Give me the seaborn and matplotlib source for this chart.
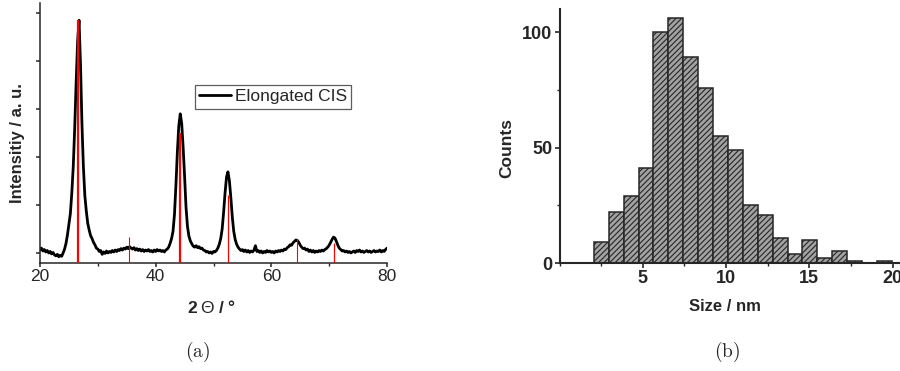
import numpy as np
import pandas as pd
import matplotlib
matplotlib.use("Agg")
import matplotlib.pyplot as plt
from matplotlib.ticker import MultipleLocator, NullFormatter
import seaborn as sns

# ---------------- data ----------------
# XRD scan, 20-80 deg in 0.25 deg steps (intensity in arbitrary units)
scan_start, scan_stop = 20.0, 80.0
intensity = [
    0.06, 0.10, 0.04, 0.07, 0.02, 0.05, 0.00, 0.03,
    -0.02, 0.01, -0.04, -0.06, -0.03, -0.08, -0.05, -0.07,
    0.00, 0.08, 0.20, 0.38, 0.60, 0.82, 1.25, 1.80,
    2.60, 3.55, 4.40, 4.85, 3.95, 2.70, 1.80, 1.20,
    0.88, 0.62, 0.48, 0.36, 0.30, 0.22, 0.17, 0.10,
    0.08, 0.03, 0.05, -0.03, 0.02, -0.01, 0.04, 0.00,
    0.03, 0.01, 0.05, 0.02, 0.06, 0.03, 0.07, 0.05,
    0.09, 0.06, 0.10, 0.08, 0.12, 0.09, 0.13, 0.10,
    0.08, 0.11, 0.06, 0.09, 0.05, 0.08, 0.04, 0.07,
    0.03, 0.06, 0.04, 0.07, 0.03, 0.05, 0.02, 0.06,
    0.03, 0.07, 0.04, 0.06, 0.03, 0.05, 0.02, 0.06,
    0.08, 0.12, 0.20, 0.30, 0.45, 0.80, 1.40, 2.10,
    2.65, 2.90, 2.70, 2.20, 1.60, 0.95, 0.55, 0.35,
    0.25, 0.19, 0.14, 0.12, 0.15, 0.11, 0.13, 0.09,
    0.10, 0.06, 0.05, 0.02, 0.03, 0.00, 0.02, -0.01,
    0.03, 0.02, 0.05, 0.10, 0.18, 0.30, 0.50, 0.85,
    1.25, 1.58, 1.69, 1.50, 1.15, 0.75, 0.45, 0.28,
    0.18, 0.12, 0.08, 0.05, 0.07, 0.03, 0.06, 0.02,
    0.05, 0.01, 0.04, 0.02, 0.06, 0.15, 0.03, 0.05,
    0.01, 0.04, 0.00, 0.03, 0.01, 0.05, 0.02, 0.04,
    0.01, 0.03, 0.00, 0.04, 0.02, 0.05, 0.03, 0.06,
    0.04, 0.08, 0.07, 0.11, 0.13, 0.17, 0.16, 0.21,
    0.24, 0.27, 0.26, 0.22, 0.16, 0.12, 0.09, 0.10,
    0.06, 0.08, 0.03, 0.06, 0.02, 0.05, 0.01, 0.04,
    0.02, 0.05, 0.03, 0.06, 0.04, 0.07, 0.09, 0.12,
    0.16, 0.22, 0.28, 0.33, 0.31, 0.24, 0.16, 0.10,
    0.07, 0.04, 0.05, 0.02, 0.04, 0.01, 0.03, 0.00,
    0.02, 0.04, 0.01, 0.05, 0.03, 0.06, 0.02, 0.04,
    0.01, 0.03, 0.05, 0.02, 0.04, 0.01, 0.03, 0.05,
    0.02, 0.04, 0.03, 0.06, 0.02, 0.05, 0.03, 0.07,
    0.10,
]
two_theta = np.linspace(scan_start, scan_stop, len(intensity))

# reference reflections (position in deg, relative height)
ref_positions = [26.55, 35.45, 44.2, 52.45, 64.5, 70.85]
ref_heights = [4.85, 0.33, 2.5, 1.2, 0.29, 0.21]

# particle size histogram
size_edges = [2.06, 2.955, 3.85, 4.745, 5.64, 6.535, 7.43, 8.325, 9.22,
              10.115, 11.01, 11.905, 12.80, 13.695, 14.59, 15.485, 16.38,
              17.275, 18.17, 19.065, 19.96]
size_counts = [9, 22, 29, 41, 100, 106, 89, 76, 55, 49,
               25, 21, 11, 4, 10, 2, 5, 1, 0, 1]

# ---------------- style ----------------
sns.set_style("ticks")
plt.rcParams["font.family"] = ["Liberation Sans", "DejaVu Sans"]
plt.rcParams["mathtext.fontset"] = "custom"
plt.rcParams["mathtext.rm"] = "Liberation Sans"
plt.rcParams["mathtext.bf"] = "Liberation Sans:bold"
plt.rcParams["mathtext.it"] = "Liberation Sans:italic"
plt.rcParams["hatch.linewidth"] = 0.8
plt.rcParams["axes.linewidth"] = 1.1

W, H = 900, 371
fig = plt.figure(figsize=(W / 100, H / 100), dpi=100)

def frac_axes(left, top, right, bottom):
    return fig.add_axes([left / W, 1 - bottom / H, (right - left) / W, (bottom - top) / H])

# ---------------- (a) XRD ----------------
ax1 = frac_axes(40, 3, 387, 263)
ylim_a = (-0.21, 5.21)
xrd = pd.DataFrame({"two_theta": two_theta, "intensity": intensity})
sns.lineplot(data=xrd, x="two_theta", y="intensity", ax=ax1, color="black",
             linewidth=2.0, estimator=None, sort=False, label="Elongated CIS")
ax1.vlines(ref_positions, ylim_a[0], ref_heights, colors="#ff0000",
           linewidths=[1.6, 0.8, 1.6, 0.9, 0.8, 0.9], zorder=4)
ax1.set_xlim(20, 80)
ax1.set_ylim(*ylim_a)
ax1.set_xticks([20, 40, 60, 80])
ax1.xaxis.set_minor_locator(MultipleLocator(10))
ax1.set_yticks([0, 1, 2, 3, 4, 5])
ax1.yaxis.set_major_formatter(NullFormatter())
ax1.tick_params(axis="both", which="major", direction="out", length=3.2,
                width=1.1, labelsize=12.5, pad=1)
ax1.tick_params(axis="x", which="minor", direction="out", length=2.2, width=1.0)
sns.despine(ax=ax1)
ax1.set_xlabel(r"$\mathbf{2}\;\mathrm{\Theta}\;\mathbf{/\;°}$", fontsize=12.5)
ax1.xaxis.set_label_coords((211 - 40) / 347, (263 - 299) / 260)
ax1.xaxis.label.set_va("top")
ax1.set_ylabel("Intensitiy / a. u.", fontsize=12, fontweight="bold")
ax1.yaxis.set_label_coords((25 - 40) / 347, (263 - 143) / 260)
leg = ax1.legend(loc="upper left", bbox_to_anchor=((195 - 40) / 347, 1 - (85 - 3) / 260),
                 borderaxespad=0, fontsize=12.5, frameon=True, fancybox=False,
                 handlelength=1.8, handletextpad=0.25, borderpad=0.25)
leg.get_frame().set_edgecolor("#333333")
leg.get_frame().set_linewidth(0.9)

# ---------------- (b) size histogram ----------------
ax2 = frac_axes(559.5, 9, 900, 263)
mids = [(a + b) / 2 for a, b in zip(size_edges[:-1], size_edges[1:])]
sizes = pd.DataFrame({"size": mids, "count": size_counts})
sns.histplot(data=sizes, x="size", weights="count", bins=size_edges, ax=ax2,
             color="#a2a2a2", edgecolor="#262626", linewidth=1.1, alpha=1,
             hatch="//////")
ax2.set_xlim(0, 20.45)
ax2.set_ylim(0, 110)
ax2.set_xticks([5, 10, 15, 20])
ax2.xaxis.set_minor_locator(MultipleLocator(2.5))
ax2.set_yticks([0, 50, 100])
ax2.yaxis.set_minor_locator(MultipleLocator(25))
ax2.tick_params(axis="both", which="major", direction="out", length=3.8,
                width=1.2, labelsize=13, pad=1.5)
ax2.tick_params(axis="both", which="minor", direction="out", length=2.4, width=1.0)
for lab in ax2.get_xticklabels() + ax2.get_yticklabels():
    lab.set_fontweight("bold")
for side in ("left", "bottom"):
    ax2.spines[side].set_linewidth(1.5)
sns.despine(ax=ax2)
ax2.set_xlabel("Size / nm", fontsize=12, fontweight="bold")
ax2.xaxis.set_label_coords((725 - 559.5) / 340.5, (263 - 299) / 254)
ax2.xaxis.label.set_va("top")
ax2.set_ylabel("Counts", fontsize=12.5, fontweight="bold")
ax2.yaxis.set_label_coords((514 - 559.5) / 340.5, (263 - 147.5) / 254)

# ---------------- captions ----------------
fig.text(198 / W, 1 - 352 / H, r"$\mathrm{(a)}$", ha="center", va="center",
         fontsize=14, math_fontfamily="cm")
fig.text(727 / W, 1 - 352 / H, r"$\mathrm{(b)}$", ha="center", va="center",
         fontsize=14, math_fontfamily="cm")

fig.savefig("out.png", dpi=100)
